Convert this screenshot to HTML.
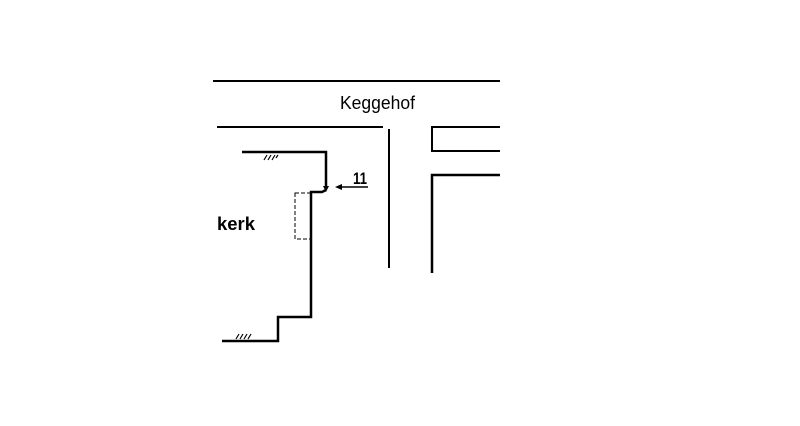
<!DOCTYPE html>
<html><head><style>body{margin:0;background:#fff}</style></head><body>
<svg width="800" height="426" xmlns="http://www.w3.org/2000/svg" style="display:block">
<g stroke="#000" fill="none" stroke-width="2">
<line x1="213" y1="81" x2="500" y2="81"/>
<line x1="217" y1="127" x2="383" y2="127"/>
<line x1="389" y1="129" x2="389" y2="268"/>
<polyline points="500,127 432,127 432,151 500,151" />
<polyline points="500,175 432,175 432,273" stroke-width="2.5"/>
<polyline points="242,152 326,152 326,186" stroke-width="2.5"/>
<polyline points="326,190 322,192 311,192 311,317 278,317 278,341 222,341" stroke-width="2.5"/>
<rect x="295" y="193" width="16" height="46" stroke-width="1" stroke-dasharray="4,2"/>
<line x1="340" y1="187" x2="368" y2="187" stroke-width="1.5"/>
<path d="M264 160 l3 -5 M268 160 l3 -5 M272 160 l3 -5 M276 158 l2 -3 M236 339 l3 -5 M240 339 l3 -5 M244 339 l3 -5 M248 339 l3 -5" stroke-width="1.2"/>
</g>
<polygon points="335,187 342,184 342,190" fill="#000"/>
<polygon points="323,186 329,186 326,192" fill="#000"/>
<g font-family="Liberation Sans, sans-serif" fill="#000">
<text x="340" y="109" font-size="18" textLength="75" lengthAdjust="spacingAndGlyphs">Keggehof</text>
<text x="353" y="184" font-size="17" font-weight="bold" textLength="14" lengthAdjust="spacingAndGlyphs">11</text>
<text x="217" y="230" font-size="18" font-weight="bold" textLength="38" lengthAdjust="spacingAndGlyphs">kerk</text>
</g>
</svg>
</body></html>
